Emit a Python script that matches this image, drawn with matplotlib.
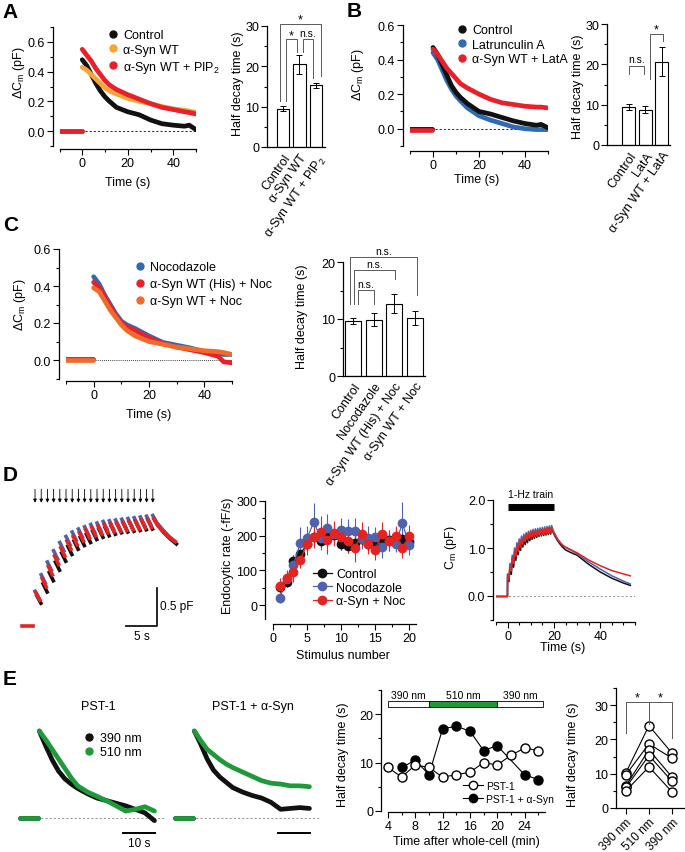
import matplotlib
matplotlib.use("Agg")
import matplotlib.pyplot as plt
import numpy as np
from matplotlib.lines import Line2D
from matplotlib.ticker import MultipleLocator, FormatStrFormatter

plt.rcParams['font.family'] = ['Liberation Sans', 'DejaVu Sans']
plt.rcParams['mathtext.fontset'] = 'custom'
plt.rcParams['mathtext.rm'] = 'Liberation Sans'
plt.rcParams['mathtext.it'] = 'Liberation Sans:italic'
plt.rcParams['axes.linewidth'] = 0.9

BLACK = '#111111'
ORANGE = '#F4A636'
RED = '#E8202A'
BLUE = '#2F6BB3'
ORANGE_C = '#F26A2A'
D_BLUE = '#4E62AD'
D_RED = '#E52421'
GREEN = '#1E9A3A'

# ---------------- data ----------------
# A: capacitance traces (pF)
a_time = [0, 2, 4, 6, 8, 10, 12, 15, 20, 25, 30, 35, 40, 45, 47, 50]
a_control = [0.48, 0.44, 0.38, 0.32, 0.27, 0.23, 0.20, 0.16, 0.13, 0.11, 0.075, 0.05, 0.04, 0.033, 0.04, 0.01]
a_syn = [0.43, 0.41, 0.38, 0.35, 0.32, 0.29, 0.27, 0.25, 0.22, 0.20, 0.185, 0.165, 0.15, 0.14, 0.135, 0.125]
a_syn_pip2 = [0.55, 0.51, 0.47, 0.42, 0.38, 0.34, 0.31, 0.28, 0.245, 0.215, 0.185, 0.16, 0.145, 0.13, 0.125, 0.115]
base_time = [-10, -0.3]
a_groups = ['Control', 'α-Syn WT', 'α-Syn WT + PIP$_2$']
a_half = [9.5, 20.5, 15.3]
a_err = [0.6, 2.3, 0.6]

# B
b_time = [0, 2, 4, 6, 8, 10, 12, 15, 20, 25, 30, 35, 40, 45, 47, 50]
b_control = [0.47, 0.43, 0.37, 0.31, 0.25, 0.21, 0.18, 0.145, 0.10, 0.085, 0.065, 0.045, 0.03, 0.02, 0.025, 0.005]
b_lata = [0.44, 0.40, 0.34, 0.28, 0.23, 0.19, 0.16, 0.12, 0.075, 0.05, 0.03, 0.01, 0.0, -0.005, -0.005, -0.005]
b_syn_lata = [0.46, 0.43, 0.39, 0.35, 0.32, 0.29, 0.26, 0.235, 0.20, 0.17, 0.15, 0.14, 0.13, 0.125, 0.125, 0.12]
b_groups = ['Control', 'LatA', 'α-Syn WT + LatA']
b_half = [9.4, 8.8, 20.7]
b_err = [0.7, 0.9, 3.5]

# C
c_time = [0, 2, 4, 6, 8, 10, 12, 15, 20, 25, 30, 35, 40, 45, 47, 50]
c_noc = [0.45, 0.41, 0.35, 0.30, 0.25, 0.21, 0.19, 0.17, 0.13, 0.095, 0.08, 0.065, 0.045, 0.035, 0.03, 0.03]
c_his_noc = [0.42, 0.39, 0.34, 0.29, 0.24, 0.20, 0.18, 0.16, 0.12, 0.09, 0.07, 0.055, 0.04, 0.02, -0.01, -0.015]
c_wt_noc = [0.39, 0.37, 0.32, 0.27, 0.23, 0.19, 0.16, 0.13, 0.10, 0.085, 0.07, 0.06, 0.05, 0.045, 0.04, 0.03]
c_groups = ['Control', 'Nocodazole', 'α-Syn WT (His) + Noc', 'α-Syn WT + Noc']
c_half = [9.7, 9.9, 12.7, 10.2]
c_err = [0.5, 1.2, 1.7, 1.2]

# D: 1-Hz train, 20 stimuli (pF)
peak_ctrl = [0.40, 0.56, 0.71, 0.85, 0.97, 1.06, 1.13, 1.18, 1.22, 1.26, 1.29, 1.31, 1.33, 1.35, 1.36, 1.37, 1.38, 1.39, 1.40, 1.41]
trough_ctrl = [0.30, 0.45, 0.60, 0.74, 0.86, 0.95, 1.02, 1.07, 1.11, 1.15, 1.18, 1.20, 1.22, 1.24, 1.25, 1.26, 1.27, 1.28, 1.29]
peak_noc = [0.46, 0.68, 0.85, 1.00, 1.11, 1.19, 1.25, 1.29, 1.32, 1.35, 1.37, 1.39, 1.40, 1.41, 1.42, 1.43, 1.44, 1.45, 1.46, 1.47]
trough_noc = [0.36, 0.57, 0.74, 0.89, 1.00, 1.08, 1.14, 1.18, 1.21, 1.24, 1.26, 1.28, 1.29, 1.30, 1.31, 1.32, 1.33, 1.34, 1.35]
peak_syn = [0.44, 0.63, 0.79, 0.93, 1.04, 1.13, 1.19, 1.24, 1.28, 1.31, 1.33, 1.35, 1.36, 1.37, 1.38, 1.39, 1.40, 1.41, 1.42, 1.43]
trough_syn = [0.34, 0.52, 0.68, 0.82, 0.93, 1.02, 1.08, 1.13, 1.17, 1.20, 1.22, 1.24, 1.25, 1.26, 1.27, 1.28, 1.29, 1.30, 1.31]
decay_time = [19.6, 20.5, 21.5, 22.5, 23.5, 25, 27.5, 30, 35, 40, 45, 50, 53]
decay_ctrl = [1.33, 1.24, 1.16, 1.09, 1.03, 0.96, 0.90, 0.85, 0.66, 0.50, 0.37, 0.27, 0.22]
decay_noc = [1.38, 1.29, 1.20, 1.13, 1.07, 1.01, 0.95, 0.88, 0.71, 0.56, 0.42, 0.31, 0.25]
decay_syn = [1.34, 1.26, 1.18, 1.12, 1.07, 1.02, 0.96, 0.90, 0.75, 0.63, 0.53, 0.46, 0.42]

stim_number = list(range(1, 21))
rate_ctrl = [52, 67, 128, 148, 175, 195, 186, 202, 202, 177, 169, 178, 191, 177, 181, 189, 188, 196, 190, 181]
rate_noc = [20, 75, 117, 179, 193, 240, 193, 222, 205, 217, 213, 215, 191, 193, 196, 167, 186, 177, 236, 174]
rate_syn = [56, 77, 95, 131, 175, 195, 212, 188, 208, 195, 184, 164, 204, 177, 160, 204, 186, 198, 165, 200]
err_ctrl = [10, 12, 15, 15, 18, 20, 20, 20, 20, 18, 20, 20, 20, 20, 20, 20, 20, 20, 20, 20]
err_noc = [15, 22, 28, 45, 35, 55, 35, 40, 35, 35, 35, 35, 30, 35, 30, 30, 30, 25, 60, 30]
err_syn = [22, 25, 28, 25, 30, 30, 45, 40, 35, 35, 35, 40, 35, 30, 30, 35, 30, 30, 30, 30]

# E: normalised traces
e_time = [0, 2, 4, 6, 8, 10, 12, 15, 18, 21, 24, 27, 30, 33, 36]
e_base = [-6, -0.5]
pst_390 = [1.0, 0.83, 0.67, 0.54, 0.45, 0.39, 0.34, 0.28, 0.23, 0.20, 0.17, 0.14, 0.10, 0.06, -0.03]
pst_510 = [1.0, 0.90, 0.79, 0.68, 0.57, 0.46, 0.37, 0.30, 0.25, 0.20, 0.14, 0.08, 0.10, 0.13, 0.08]
pst_syn_390 = [1.0, 0.85, 0.68, 0.55, 0.47, 0.41, 0.35, 0.30, 0.26, 0.23, 0.18, 0.10, 0.11, 0.12, 0.11]
pst_syn_510 = [1.0, 0.89, 0.79, 0.73, 0.67, 0.62, 0.58, 0.53, 0.48, 0.43, 0.40, 0.39, 0.37, 0.37, 0.36]

wc_time = [4, 6, 8, 10, 12, 14, 16, 18, 20, 22, 24, 26]
wc_pst = [9.0, 7.0, 9.5, 9.0, 7.0, 7.5, 8.0, 10.0, 9.5, 11.5, 13.0, 12.5]
wc_syn_time = [6, 8, 10, 12, 14, 16, 18, 20, 24, 26]
wc_syn = [9.0, 10.5, 7.5, 17.0, 17.5, 16.5, 12.5, 13.5, 7.5, 6.5]
light_edges = [4, 10, 20, 26.7]
light_labels = ['390 nm', '510 nm', '390 nm']
light_colors = ['white', GREEN, 'white']

wl_labels = ['390 nm', '510 nm', '390 nm']
cell_390_first = [10.3, 9.7, 6.5, 6.0, 5.0]
cell_510 = [24.0, 18.7, 17.0, 15.3, 12.0]
cell_390_second = [16.0, 14.5, 9.0, 7.8, 4.7]

# ---------------- layout helpers ----------------
W, H = 685, 853
fig = plt.figure(figsize=(W / 100, H / 100), dpi=100)


def add_ax(l, t, r, b):
    ax = fig.add_axes([l / W, 1 - b / H, (r - l) / W, (b - t) / H])
    ax.px = (l, t, r, b)
    ax.patch.set_alpha(0)
    return ax


def style(ax, left_out=0, bottom_out=0):
    for s in ('top', 'right'):
        ax.spines[s].set_visible(False)
    ax.spines['left'].set_position(('outward', left_out * 0.72))
    ax.spines['bottom'].set_position(('outward', bottom_out * 0.72))
    ax.tick_params(which='major', direction='out', length=4, width=0.8, labelsize=9, pad=1.5)
    ax.tick_params(which='minor', direction='out', length=2.5, width=0.8)


def label_at(ax, which, text, px, py, fs=9):
    l, t, r, b = ax.px
    x = (px - l) / (r - l)
    y = (b - py) / (b - t)
    if which == 'y':
        ax.set_ylabel(text, fontsize=fs)
        ax.yaxis.set_label_coords(x, y)
        ax.yaxis.label.set_va('center')
    else:
        ax.set_xlabel(text, fontsize=fs)
        ax.xaxis.set_label_coords(x, y)
        ax.xaxis.label.set_va('center')


def legend_at(ax, handles, px, py, fs=9, **kw):
    ax.legend(handles=handles, loc='upper left', bbox_to_anchor=(px / W, 1 - py / H),
              bbox_transform=fig.transFigure, frameon=False, borderpad=0,
              borderaxespad=0, fontsize=fs, **kw)


def dot_handle(color, label, ms=5):
    return Line2D([], [], ls='none', marker='o', ms=ms, color=color, label=label)


def bracket(ax, x1, x2, y, y1, y2, text, ty, fs=7.5):
    ax.plot([x1, x1, x2, x2], [y1, y, y, y2], color='0.35', lw=0.7, clip_on=False)
    ax.text((x1 + x2) / 2, ty, text, ha='center', va='center', fontsize=fs, clip_on=False)


def trace_panel(ax, time, series, base_vals, ylim):
    for vals, color, bv in zip(series[0], series[1], base_vals):
        ax.plot(base_time, [bv, bv], color=color, lw=3.4, solid_capstyle='round')
        ax.plot(time, vals, color=color, lw=3.4, solid_capstyle='round')
    ax.axhline(0, color='k', lw=0.6, ls=(0, (2.5, 2.5)), zorder=0)
    ax.set_xlim(-10, 50)
    ax.set_ylim(*ylim)
    ax.xaxis.set_major_locator(MultipleLocator(20))
    ax.xaxis.set_minor_locator(MultipleLocator(10))
    ax.yaxis.set_major_locator(MultipleLocator(0.2))
    ax.yaxis.set_minor_locator(MultipleLocator(0.1))
    ax.yaxis.set_major_formatter(FormatStrFormatter('%.1f'))


def bar_panel(ax, half, err, labels, ylim, rot=55):
    x = np.arange(len(half))
    ax.bar(x, half, width=0.78, color='white', edgecolor='k', lw=0.8,
           yerr=err, error_kw=dict(ecolor='k', elinewidth=0.7, capsize=2, capthick=0.7))
    ax.set_ylim(*ylim)
    ax.set_xticks(x)
    ax.set_xticklabels(labels, rotation=rot, ha='right', rotation_mode='anchor', fontsize=9)
    ax.tick_params(axis='x', length=0, pad=3)
    ax.yaxis.set_major_locator(MultipleLocator(10))
    ax.yaxis.set_minor_locator(MultipleLocator(5))


# ---------------- A ----------------
ax = add_ax(59.5, 28, 196, 147)
style(ax, 6.5, 3)
trace_panel(ax, a_time, ([a_control, a_syn, a_syn_pip2], [BLACK, ORANGE, RED]), [0, 0, 0], (-0.1, 0.7))
label_at(ax, 'y', 'ΔC$_\\mathrm{m}$ (pF)', 19, 73)
label_at(ax, 'x', 'Time (s)', 128, 183)
legend_at(ax, [dot_handle(BLACK, 'Control'), dot_handle(ORANGE, 'α-Syn WT'),
               dot_handle(RED, 'α-Syn WT + PIP$_2$')], 108, 30,
          handlelength=0.8, handletextpad=0.4, labelspacing=0.22)

ax = add_ax(267, 27, 325, 148)
style(ax)
bar_panel(ax, a_half, a_err, a_groups, (0, 30))
ax.set_xlim(-0.97, 2.55)
label_at(ax, 'y', 'Half decay time (s)', 238, 84)
bracket(ax, -0.18, 2.3, 30.4, 11.5, 17.7, '*', 31.6, fs=9)
bracket(ax, 0.18, 0.83, 26.8, 11.5, 23.5, '*', 27.6, fs=9)
bracket(ax, 1.2, 1.84, 26.8, 23.5, 17.0, 'n.s.', 28.2)

# ---------------- B ----------------
ax = add_ax(410, 26, 548, 147)
style(ax, 7, 5)
trace_panel(ax, b_time, ([b_lata, b_control, b_syn_lata], [BLUE, BLACK, RED]), [0, 0, -0.01], (-0.1, 0.6))
label_at(ax, 'y', 'ΔC$_\\mathrm{m}$ (pF)', 358, 75)
label_at(ax, 'x', 'Time (s)', 477, 180)
legend_at(ax, [dot_handle(BLACK, 'Control'), dot_handle(BLUE, 'Latrunculin A'),
               dot_handle(RED, 'α-Syn WT + LatA')], 457, 25,
          handlelength=0.8, handletextpad=0.4, labelspacing=0.22)

ax = add_ax(607, 25, 670, 146)
style(ax)
bar_panel(ax, b_half, b_err, b_groups, (0, 30))
ax.set_xlim(-1.33, 2.5)
label_at(ax, 'y', 'Half decay time (s)', 578, 87)
bracket(ax, 0.02, 0.91, 19.7, 17.6, 17.6, 'n.s.', 21.2)
bracket(ax, 1.27, 2.1, 27.5, 16.4, 25.9, '*', 28.6, fs=9)

# ---------------- C ----------------
ax = add_ax(66, 250, 232, 379.5)
style(ax, 7, 2.5)
trace_panel(ax, c_time, ([c_noc, c_his_noc, c_wt_noc], [BLUE, RED, ORANGE_C]), [0.005, 0.005, 0.0], (-0.1, 0.6))
ax.lines[-1].set_linestyle((0, (1, 1.5)))
label_at(ax, 'y', 'ΔC$_\\mathrm{m}$ (pF)', 20, 305)
label_at(ax, 'x', 'Time (s)', 149, 415)
legend_at(ax, [dot_handle(BLUE, 'Nocodazole'), dot_handle(RED, 'α-Syn WT (His) + Noc'),
               dot_handle(ORANGE_C, 'α-Syn WT + Noc')], 135, 262,
          handlelength=0.8, handletextpad=0.4, labelspacing=0.4)

ax = add_ax(343, 263, 425, 377)
style(ax)
bar_panel(ax, c_half, c_err, c_groups, (0, 20))
ax.set_xlim(-0.48, 3.48)
label_at(ax, 'y', 'Half decay time (s)', 302, 317)
bracket(ax, 0.24, 1.0, 15.1, 12.6, 12.6, 'n.s.', 16.2)
bracket(ax, 0.05, 2.03, 18.6, 12.6, 17.0, 'n.s.', 19.6)
bracket(ax, -0.14, 3.08, 20.8, 12.6, 14.2, 'n.s.', 21.9)

# ---------------- D left: expanded train ----------------
d_sets = [(peak_ctrl, trough_ctrl, decay_ctrl, BLACK, 0.3),
          (peak_noc, trough_noc, decay_noc, D_BLUE, 0.0),
          (peak_syn, trough_syn, decay_syn, D_RED, 0.15)]
ax = add_ax(15, 488, 190, 650)
ax.set_xlim(-3.23, 25)
ax.set_ylim(-0.31, 1.85)
ax.axis('off')
for peaks, troughs, decay, color, shift in d_sets:
    for k in range(len(troughs)):
        ax.plot([k + shift, k + shift + 0.65], [peaks[k], troughs[k]], color=color, lw=2.6)
    last = len(peaks) - 1
    tail_t = [last + shift] + [t + shift for t in decay_time if t <= 23.2]
    tail_v = [peaks[last]] + decay[:len(tail_t) - 1]
    ax.plot(tail_t, tail_v, color=color, lw=2.6)
ax.plot([-2.1, -0.3], [0, 0], color=D_RED, lw=2.6)
for k in range(len(peak_ctrl)):
    ax.annotate('', xy=(k, 1.64), xytext=(k, 1.82),
                arrowprops=dict(arrowstyle='-|>', lw=0.6, color='k', mutation_scale=5,
                                shrinkA=0, shrinkB=0))
ax.plot([14.7, 19.7, 19.7], [0, 0, 0.5], color='k', lw=1.2)
ax.text(17.2, -0.135, '5 s', ha='center', va='center', fontsize=8.5)
ax.text(20.2, 0.26, '0.5 pF', ha='left', va='center', fontsize=8.5)

# ---------------- D middle: endocytic rate ----------------
ax = add_ax(273, 502, 416, 620)
style(ax, 8, 5)
for rate, err, color, lab in [(rate_ctrl, err_ctrl, BLACK, 'Control'),
                              (rate_noc, err_noc, D_BLUE, 'Nocodazole'),
                              (rate_syn, err_syn, D_RED, 'α-Syn + Noc')]:
    ax.errorbar(stim_number, rate, yerr=err, fmt='o-', color=color, ms=6, lw=0.9,
                elinewidth=0.8, ecolor=color, capsize=0, label=lab, clip_on=False)
ax.set_xlim(0, 21)
ax.set_ylim(-40, 300)
ax.xaxis.set_major_locator(MultipleLocator(5))
ax.xaxis.set_minor_locator(MultipleLocator(2.5))
ax.yaxis.set_major_locator(MultipleLocator(100))
ax.yaxis.set_minor_locator(MultipleLocator(50))
ax.set_yticks([0, 100, 200, 300])
label_at(ax, 'y', 'Endocytic rate (-fF/s)', 228, 556)
label_at(ax, 'x', 'Stimulus number', 343, 656)
handles = [Line2D([], [], color=c, marker='o', ms=6, lw=0.9, label=l)
           for c, l in [(BLACK, 'Control'), (D_BLUE, 'Nocodazole'), (D_RED, 'α-Syn + Noc')]]
legend_at(ax, handles, 313, 569, handlelength=1.5, handletextpad=0.35, labelspacing=0.12)

# ---------------- D right: full train ----------------
ax = add_ax(496, 501, 635, 621)
style(ax, 3, 2)
for peaks, troughs, decay, color, shift in d_sets:
    t_all = [-5, -0.05]
    v_all = [-0.01, -0.01]
    for k in range(len(troughs)):
        t_all += [k, k + 0.6]
        v_all += [peaks[k], troughs[k]]
    t_all += [len(peaks) - 1] + decay_time
    v_all += [peaks[-1]] + decay
    ax.plot(t_all, v_all, color=color, lw=1.1)
ax.axhline(0, color='0.5', lw=0.6, ls=(0, (2.5, 2.5)), zorder=0)
ax.plot([0, 20], [1.86, 1.86], color='k', lw=5, solid_capstyle='butt', clip_on=False)
ax.text(10, 2.12, '1-Hz train', ha='center', va='center', fontsize=7.5)
ax.set_xlim(-5, 55)
ax.set_ylim(-0.5, 2.0)
ax.xaxis.set_major_locator(MultipleLocator(20))
ax.xaxis.set_minor_locator(MultipleLocator(5))
ax.yaxis.set_major_locator(MultipleLocator(1.0))
ax.yaxis.set_minor_locator(MultipleLocator(0.5))
ax.yaxis.set_major_formatter(FormatStrFormatter('%.1f'))
label_at(ax, 'y', 'C$_\\mathrm{m}$ (pF)', 451, 548)
label_at(ax, 'x', 'Time (s)', 563, 648)

# ---------------- E traces ----------------
for left, title, v390, v510, bar_text in [(15, 'PST-1', pst_390, pst_510, '10 s'),
                                          (170, 'PST-1 + α-Syn', pst_syn_390, pst_syn_510, None)]:
    ax = add_ax(left, 720, left + 150, 850)
    ax.set_xlim(-7.6, 39.3)
    ax.set_ylim(-0.356, 1.138)
    ax.axis('off')
    ax.axhline(0, xmin=0.03, xmax=0.99, color='0.5', lw=0.6, ls=(0, (2.5, 2.5)), zorder=0)
    for vals, color in [(v390, BLACK), (v510, GREEN)]:
        ax.plot(e_base, [0, 0], color=color, lw=3.4, solid_capstyle='round')
        ax.plot(e_time, vals, color=color, lw=3.4, solid_capstyle='round')
    ax.plot([26.2, 36.2], [-0.172, -0.172], color='k', lw=1.4)
    if bar_text:
        ax.text(31.2, -0.29, bar_text, ha='center', va='center', fontsize=8.5)
    fig.text((left + 83) / W, 1 - 707 / H, title, ha='center', va='center', fontsize=9)
    if left == 15:
        legend_at(ax, [dot_handle(BLACK, '390 nm'), dot_handle(GREEN, '510 nm')], 84, 733,
                  handlelength=0.8, handletextpad=0.5, labelspacing=0.2)

# ---------------- E half decay vs time ----------------
ax = add_ax(388, 691, 545, 812)
style(ax, 7, 1)
ax.plot(wc_syn_time, wc_syn, 'o-', color='k', ms=6.5, lw=0.8, mfc='k', clip_on=False)
ax.plot(wc_time, wc_pst, 'o-', color='k', ms=6.5, lw=0.8, mfc='white', clip_on=False)
ax.barh(22.1, np.diff(light_edges), left=light_edges[:-1], height=1.2,
        color=light_colors, edgecolor='k', lw=0.6, clip_on=False)
for i, lab in enumerate(light_labels):
    ax.text((light_edges[i] + light_edges[i + 1]) / 2, 24.0, lab, ha='center', va='center', fontsize=7.5)
ax.set_xlim(4, 27)
ax.set_ylim(0, 25)
ax.xaxis.set_major_locator(MultipleLocator(4))
ax.xaxis.set_minor_locator(MultipleLocator(2))
ax.yaxis.set_major_locator(MultipleLocator(10))
ax.yaxis.set_minor_locator(MultipleLocator(5))
label_at(ax, 'y', 'Half decay time (s)', 343, 755)
label_at(ax, 'x', 'Time after whole-cell (min)', 466, 842)
handles = [Line2D([], [], color='k', marker='o', ms=6, lw=0.8, mfc='white', label='PST-1'),
           Line2D([], [], color='k', marker='o', ms=6, lw=0.8, mfc='k', label='PST-1 + α-Syn')]
legend_at(ax, handles, 463, 782, fs=7.5, handlelength=1.9, handletextpad=0.35, labelspacing=0.3)

# ---------------- E paired ----------------
ax = add_ax(616, 689, 684, 809)
style(ax)
for a, b, c in zip(cell_390_first, cell_510, cell_390_second):
    ax.plot([0, 1, 2], [a, b, c], 'o-', color='k', ms=6.5, lw=0.8, mfc='white', clip_on=False)
ax.set_xlim(-0.43, 2.52)
ax.set_ylim(0, 35)
ax.set_xticks([0, 1, 2])
ax.set_xticklabels(wl_labels, rotation=45, ha='right', rotation_mode='anchor', fontsize=8.5)
ax.yaxis.set_major_locator(MultipleLocator(10))
ax.yaxis.set_minor_locator(MultipleLocator(5))
label_at(ax, 'y', 'Half decay time (s)', 573, 755)
bracket(ax, 0, 1, 30.8, 22, 24.4, '*', 32.2, fs=9)
bracket(ax, 1, 2, 30.8, 24.4, 20.5, '*', 32.2, fs=9)

# ---------------- panel letters ----------------
for letter, x, y in [('A', 2, 3), ('B', 347, 2), ('C', 3, 216), ('D', 3, 466), ('E', 3, 670)]:
    fig.text(x / W, 1 - y / H, letter, fontsize=15, fontweight='bold', ha='left', va='top')

fig.savefig('out.png', dpi=100)
